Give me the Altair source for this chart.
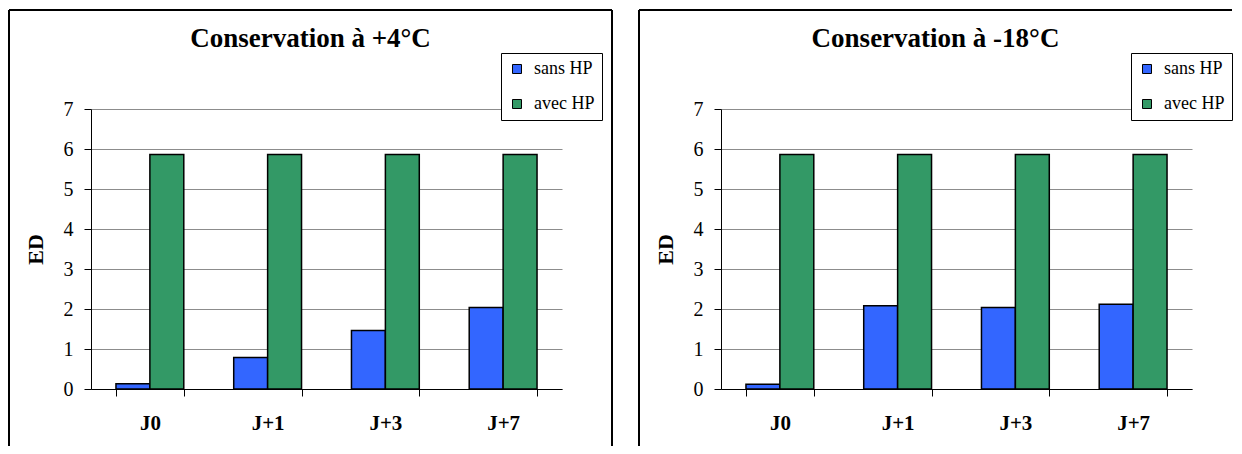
import altair as alt
import pandas as pd

categories = ["J0", "J+1", "J+3", "J+7"]
series = ["sans HP", "avec HP"]
colors = ["#3366FF", "#339966"]

left_title = "Conservation à +4°C"
left_sans = [0.13, 0.79, 1.46, 2.04]
left_avec = [5.86, 5.86, 5.86, 5.86]

right_title = "Conservation à -18°C"
right_sans = [0.12, 2.08, 2.04, 2.12]
right_avec = [5.86, 5.86, 5.86, 5.86]

y_ticks = [0, 1, 2, 3, 4, 5, 6, 7]

FONT = "Liberation Serif, Times New Roman, serif"
W, H = 471, 280


def make_df(sans, avec):
    rows = []
    for c, s, a in zip(categories, sans, avec):
        rows.append({"cat": c, "serie": series[0], "val": s})
        rows.append({"cat": c, "serie": series[1], "val": a})
    return pd.DataFrame(rows)


one = pd.DataFrame({"k": [0]})


def panel(title, sans, avec, right_edge, draw_right):
    df = make_df(sans, avec)
    bars = alt.Chart(df).mark_bar(stroke="black", strokeWidth=1.5).encode(
        x=alt.X("cat:N", sort=categories,
                scale=alt.Scale(paddingInner=0.424, paddingOuter=0.212),
                axis=alt.Axis(title=None, tickBand="extent", labelAngle=0,
                              labelFont=FONT, labelFontSize=21, labelFontWeight="bold",
                              labelPadding=16, tickSize=7, grid=False)),
        xOffset=alt.XOffset("serie:N", sort=series,
                            scale=alt.Scale(paddingInner=0, paddingOuter=0)),
        y=alt.Y("val:Q", scale=alt.Scale(domain=[0, 7], nice=False),
                axis=alt.Axis(title="ED", values=y_ticks, grid=True,
                              gridColor="#8c8c8c", gridWidth=1,
                              labelFont=FONT, labelFontSize=20, labelPadding=11,
                              tickSize=7, titleFont=FONT, titleFontSize=22,
                              titleFontWeight="bold", titlePadding=16)),
        color=alt.Color("serie:N", sort=series,
                        scale=alt.Scale(domain=series, range=colors),
                        legend=alt.Legend(title=None, orient="none",
                                          legendX=410, legendY=-56,
                                          symbolType="square", symbolSize=81,
                                          symbolStrokeColor="black",
                                          symbolStrokeWidth=1,
                                          labelFont=FONT, labelFontSize=18,
                                          labelColor="black",
                                          labelOffset=8, rowPadding=17,
                                          padding=7, strokeColor="black",
                                          fillColor="white")),
    )
    frame_top = alt.Chart(one).mark_rule(color="black", strokeWidth=2).encode(
        x=alt.value(-82), x2=alt.value(right_edge), y=alt.value(-99))
    frame_left = alt.Chart(one).mark_rule(color="black", strokeWidth=2).encode(
        x=alt.value(-82), y=alt.value(-99), y2=alt.value(337))
    layers = [frame_top, frame_left]
    if draw_right:
        frame_right = alt.Chart(one).mark_rule(color="black", strokeWidth=2).encode(
            x=alt.value(right_edge), y=alt.value(-99), y2=alt.value(337))
        layers.append(frame_right)
    layers.append(bars)
    return alt.layer(*layers).properties(
        width=W, height=H,
        title=alt.TitleParams(title, font=FONT, fontSize=27, fontWeight="bold",
                              color="black", anchor="middle", frame="bounds",
                              offset=-44),
    )


left = panel(left_title, left_sans, left_avec, 521, True)
right = panel(right_title, right_sans, right_avec, 511, False)

chart = alt.hconcat(left, right, spacing=25).resolve_legend(
    color="independent"
).configure(
    padding={"left": 0, "top": 1, "right": 0, "bottom": 0},
).configure_view(stroke=None).configure_axis(
    domainColor="black", tickColor="black", labelColor="black",
    titleColor="black", domainWidth=1,
)

chart.save("out.html", embed_options={"renderer": "svg", "actions": False})
